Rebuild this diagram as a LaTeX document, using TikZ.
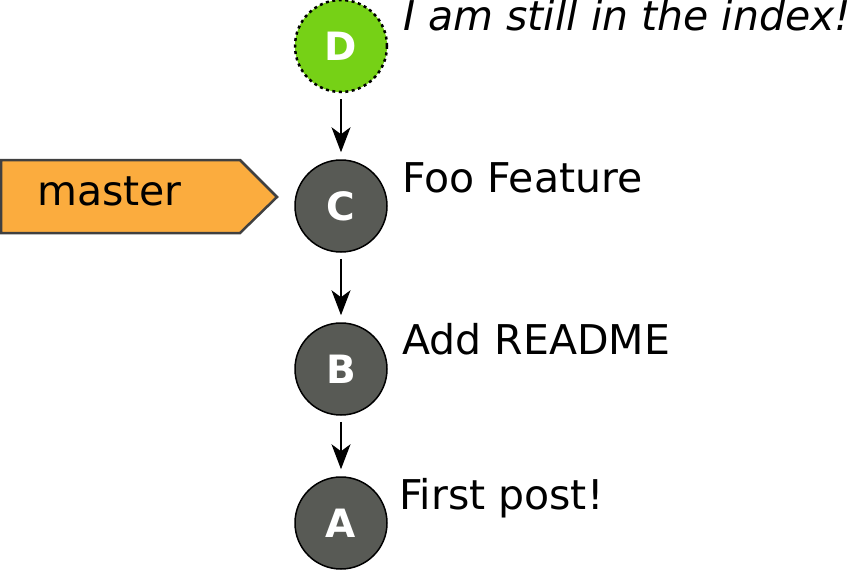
\documentclass[tikz,border=0pt]{standalone}
\usepackage{fontspec}
\setmainfont{DejaVu Sans}
\usepackage{xcolor}
\definecolor{CommitFill}{HTML}{585A55}
\definecolor{IndexFill}{HTML}{76D116}
\definecolor{BranchFill}{HTML}{FBAC3E}
\colorlet{BranchBorder}{black!75}
\usetikzlibrary{arrows.meta}

\tikzset{
  commit/.style={circle, draw=black, line width=1.5pt, fill=CommitFill,
    minimum size=92pt, inner sep=0pt, text=white,
    font=\bfseries\fontsize{39}{44}\selectfont},
  indexcommit/.style={commit, fill=IndexFill, dash pattern=on 3pt off 3.5pt,
    line width=2.5pt},
  message/.style={anchor=base west, inner sep=0pt,
    font=\fontsize{41}{48}\selectfont},
  parent/.style={line width=1.5pt,
    -{Stealth[length=25pt, width=19pt, inset=7pt]},
    shorten <=6pt, shorten >=7pt},
}

\begin{document}
\begin{tikzpicture}[x=1pt, y=-1pt]
\useasboundingbox (0, 0) rectangle (865, 570);

\node[indexcommit] (D) at (341, 46) {D};
\node[commit] (C) at (341, 206) {C};
\node[commit] (B) at (341, 369) {B};
\node[commit] (A) at (341, 523) {A};

\draw[parent] (D) -- (C);
\draw[parent] (C) -- (B);
\draw[parent] (B) -- (A);

\node[message, font=\itshape\fontsize{41}{48}\selectfont] (msgD) at (403, 30) {I am still in the index!};
\node[message] (msgC) at (402, 192) {Foo Feature};
\node[message] (msgB) at (402, 354) {Add README};
\node[message] (msgA) at (399, 509) {First post!};

% La etiqueta de la rama apunta al commit C.
\coordinate (T) at (277, 197);
\draw[fill=BranchFill, draw=BranchBorder, line width=2.5pt]
  (1, 160) -- (240, 160) -- (T) -- (240, 233) -- (1, 233) -- cycle;
\node[message] (master) at (37, 205) {master};

\end{tikzpicture}
\end{document}
